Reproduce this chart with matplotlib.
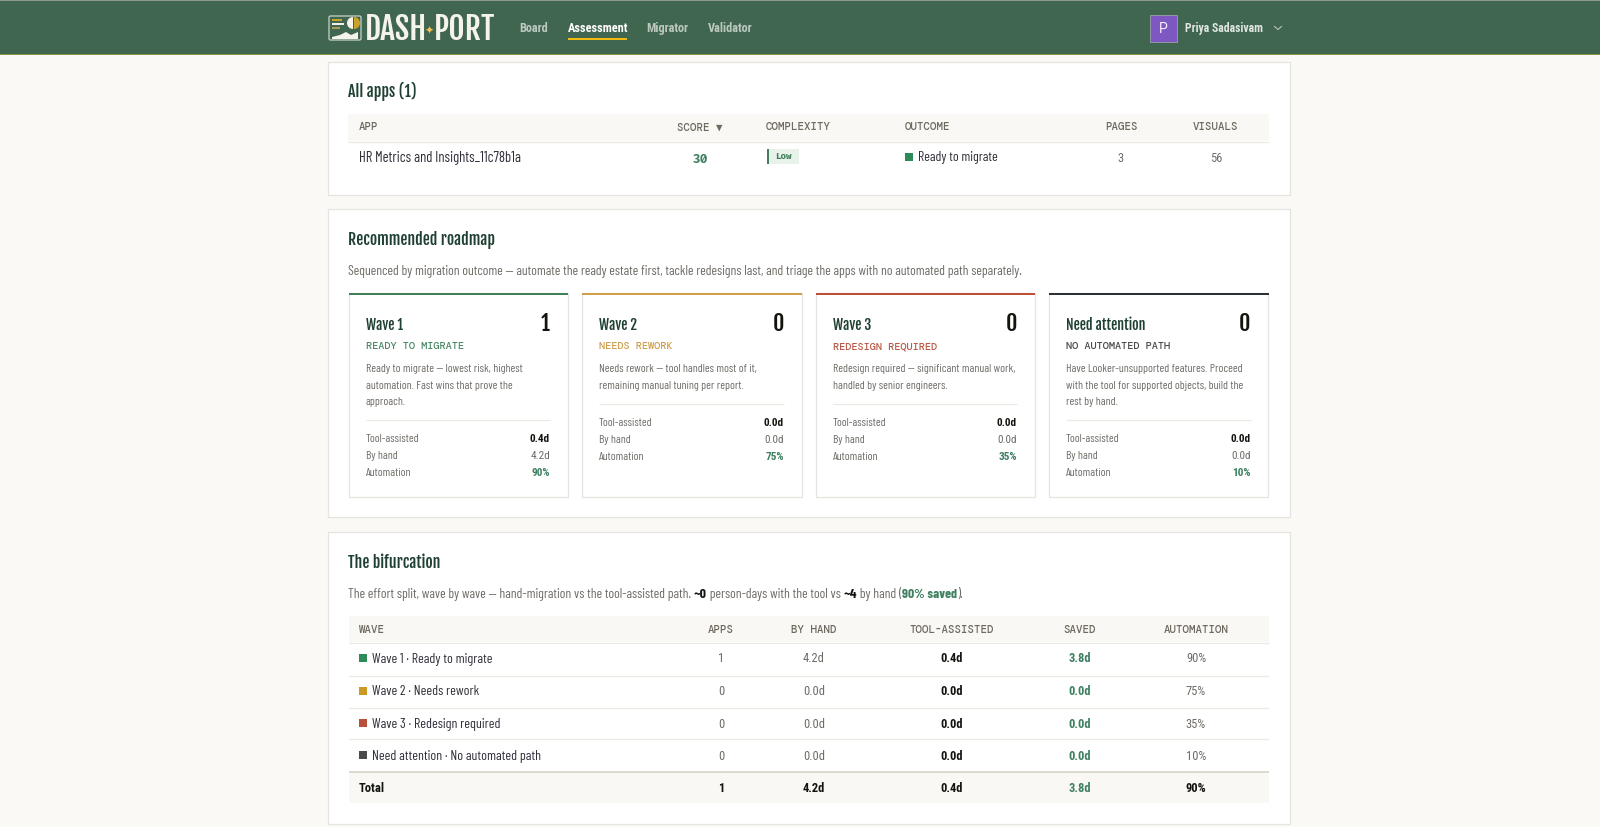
import matplotlib
matplotlib.use("Agg")
import matplotlib.pyplot as plt
from matplotlib.patches import Rectangle, Polygon, Wedge, FancyBboxPatch

# ---- data ----
nav_items = ["Board", "Assessment", "Migrator", "Validator"]
nav_x = [519.5, 568, 646.5, 708]
user_name = "Priya Sadasivam"

app_headers = ["APP", "SCORE ▼", "COMPLEXITY", "OUTCOME", "PAGES", "VISUALS"]
app_name = "HR Metrics and Insights_11c78b1a"
app_score = "30"
app_complexity = "Low"
app_outcome = "Ready to migrate"
app_pages = "3"
app_visuals = "56"

card_titles = ["Wave 1", "Wave 2", "Wave 3", "Need attention"]
card_counts = ["1", "0", "0", "0"]
card_kickers = ["READY TO MIGRATE", "NEEDS REWORK", "REDESIGN REQUIRED", "NO AUTOMATED PATH"]
card_desc = [
    ["Ready to migrate — lowest risk, highest", "automation. Fast wins that prove the", "approach."],
    ["Needs rework — tool handles most of it,", "remaining manual tuning per report."],
    ["Redesign required — significant manual work,", "handled by senior engineers."],
    ["Have Looker-unsupported features. Proceed", "with the tool for supported objects, build the", "rest by hand."],
]
tool_days = ["0.4d", "0.0d", "0.0d", "0.0d"]
hand_days = ["4.2d", "0.0d", "0.0d", "0.0d"]
saved_days = ["3.8d", "0.0d", "0.0d", "0.0d"]
automation = ["90%", "75%", "35%", "10%"]
wave_apps = ["1", "0", "0", "0"]
wave_rows = ["Wave 1 · Ready to migrate", "Wave 2 · Needs rework", "Wave 3 · Redesign required",
             "Need attention · No automated path"]
wave_headers = ["WAVE", "APPS", "BY HAND", "TOOL-ASSISTED", "SAVED", "AUTOMATION"]
total_row = ["Total", "1", "4.2d", "0.4d", "3.8d", "90%"]

# ---- styles ----
PAGE = "#faf9f5"
BAND = "#f9f8f4"
EDGE = "#e6e4de"
LINE = "#ebe9e3"
INK = "#2f2f3a"
GREY = "#6f6b66"
DARK = "#14140f"
GREEN = "#3d8060"
HEAD_GREEN = "#1f4032"
CAP_GREY = "#6f6a60"
TOP_COLORS = ["#3f7f5c", "#cf9f4c", "#bd4f34", "#2c3136"]
KICK_COLORS = ["#4c8a68", "#cfa04e", "#bb5a48", "#4a4a4a"]
SQ_COLORS = ["#2e8b57", "#c99a24", "#b8503a", "#4a4a4a"]

TEXT = ["Barlow Condensed", "Roboto Condensed", "DejaVu Sans"]
NUM = ["Roboto Condensed", "DejaVu Sans"]
HEAD = ["Fjalla One", "Oswald", "Roboto Condensed", "DejaVu Sans"]
CAPS = ["DM Mono", "Roboto Mono", "DejaVu Sans Mono", "DejaVu Sans"]
SCORE = ["Fira Code", "DejaVu Sans Mono"]

fig = plt.figure(figsize=(16, 8.27), dpi=100, facecolor=PAGE)
ax = fig.add_axes([0, 0, 1, 1])
ax.set_xlim(0, 1600)
ax.set_ylim(827, 0)
ax.axis("off")


def box(x0, y0, x1, y1, fc, ec="none", lw=0, z=1):
    ax.add_patch(Rectangle((x0, y0), x1 - x0, y1 - y0, fc=fc, ec=ec, lw=lw, zorder=z))


def hline(x0, x1, y, color=LINE, lw=0.9):
    ax.plot([x0, x1], [y, y], color=color, lw=lw, solid_capstyle="butt", zorder=2)


def txt(x, yc, s, px, color=INK, fam=TEXT, weight="normal", ha="left"):
    # yc is the middle of the capitals, px the css font size
    return ax.text(x, yc + 0.36 * px, s, fontsize=px * 0.72, color=color, family=fam,
                   fontweight=weight, ha=ha, va="baseline", zorder=3)


def run_width(s, px, fam, weight):
    r = fig.canvas.get_renderer()
    a = ax.text(0, 0, "x" + s + "x", fontsize=px * 0.72, family=fam, fontweight=weight)
    b = ax.text(0, 0, "xx", fontsize=px * 0.72, family=fam, fontweight=weight)
    w = a.get_window_extent(r).width - b.get_window_extent(r).width
    a.remove()
    b.remove()
    return w


def runs(x, yc, parts, px):
    for s, color, weight in parts:
        txt(x, yc, s, px, color=color, weight=weight)
        x += run_width(s, px, TEXT, weight)


# ---- top bar ----
box(0, 0, 1600, 55, "#41664f")
box(0, 0, 1600, 1.2, "#8d9a90", z=2)
box(0, 53.8, 1600, 55.2, "#8c9440", z=2)

ax.add_patch(FancyBboxPatch((329, 16), 32, 24, boxstyle="round,pad=0,rounding_size=1.5",
                            fc="none", ec="#c9d2cb", lw=0.9, zorder=2))
box(332, 19, 342, 21, "#c9a227", z=3)
box(332, 23, 344, 25, "#f1efe6", z=3)
box(332, 27, 340, 29, "#a79a5a", z=3)
ax.add_patch(Wedge((353, 23), 6, 90, 270, fc="#f5f3ea", ec="none", zorder=3))
ax.add_patch(Wedge((354, 23), 6, 270, 90, fc="#c9a227", ec="none", zorder=3))
ax.add_patch(Polygon([(332, 39), (332, 37), (340, 35), (346, 32), (351, 35), (358, 32), (358, 39)],
                     fc="#f5f3ea", ec="none", zorder=3))

txt(365, 28.5, "DASH", 31.5, color="#f4f3ec", fam=HEAD)
txt(429, 29.5, "✦", 11, color="#f2c14e", fam=["DejaVu Sans"], ha="center")
txt(434, 28.5, "PORT", 31.5, color="#f4f3ec", fam=HEAD)

for i, name in enumerate(nav_items):
    active = name == "Assessment"
    txt(nav_x[i], 27.5, name, 12.3, color="#ffffff" if active else "#bcc9bf", fam=NUM, weight="bold")
box(568, 38, 627, 40, "#f2b90f", z=2)

box(1150, 15, 1177, 42, "#7e57c2", ec="#8f9aa5", lw=0.7, z=2)
txt(1163.5, 28, "P", 14, color="#f3eefc", fam=["Roboto", "DejaVu Sans"], ha="center")
txt(1185, 27.5, user_name, 11.8, color="#dfe6e0", fam=NUM, weight="bold")
ax.plot([1274.5, 1278, 1281.5], [26.5, 29.5, 26.5], color="#b5c2b9", lw=0.8, zorder=3)

# ---- white panels ----
for y0, y1 in [(62, 195), (209, 517), (532, 824)]:
    box(327.5, y0, 1289.5, y1, "#ffffff", ec=EDGE, lw=0.9)

# ---- all apps table ----
txt(348, 91.5, "All apps (1)", 15.7, color=HEAD_GREEN, fam=HEAD)
box(348, 114, 1269, 141, BAND)
hline(348, 1269, 141.5)
for s, x, ha in zip(app_headers, [359, 700, 766, 905, 1121, 1216],
                    ["left", "center", "left", "left", "center", "center"]):
    txt(x, 126.5, s, 10.8, color=CAP_GREY, fam=CAPS, weight=500, ha=ha)

txt(359, 157, app_name, 14.6, color=INK)
txt(701, 158.5, app_score, 12.5, color=GREEN, fam=SCORE, weight="bold", ha="center")
box(767, 149, 799, 164, "#e9f1eb")
box(767, 149, 769, 164, "#3f7f5c", z=2)
txt(775, 156, app_complexity, 9, color="#3f7f5c", fam=SCORE, weight="bold")
box(905, 153, 913, 161, SQ_COLORS[0])
txt(918, 156.5, app_outcome, 13.8, color=INK)
txt(1121, 157.5, app_pages, 12.5, color=GREY, fam=NUM, ha="center")
txt(1216, 157.5, app_visuals, 12.5, color=GREY, fam=NUM, ha="center")

# ---- roadmap cards ----
txt(348, 239.5, "Recommended roadmap", 15.7, color=HEAD_GREEN, fam=HEAD)
txt(348, 270, "Sequenced by migration outcome — automate the ready estate first, tackle redesigns last, "
              "and triage the apps with no automated path separately.", 13.7, color=GREY)

card_left = [349, 582, 816, 1049]
card_right = [567.5, 801.5, 1034.5, 1268]
for i in range(4):
    x0, x1 = card_left[i], card_right[i]
    box(x0, 293, x1, 497, "#ffffff", ec=EDGE, lw=0.9, z=1.5)
    box(x0 - 0.5, 292.5, x1 + 0.5, 295.3, TOP_COLORS[i], z=2)
    px, pr = x0 + 17, x1 - 17.5
    txt(px, 324.5, card_titles[i], 14, color=HEAD_GREEN, fam=HEAD)
    txt(pr, 323.5, card_counts[i], 22, color=DARK, fam=HEAD, ha="right")
    txt(px, 345.5, card_kickers[i], 10.3, color=KICK_COLORS[i], fam=CAPS, weight=500)
    for j, line in enumerate(card_desc[i]):
        txt(px, 368 + j * 16.6, line, 11.7, color=GREY)
    three = len(card_desc[i]) == 3
    hline(px, pr, 420 if three else 404)
    y = 438 if three else 422
    txt(px, y, "Tool-assisted", 11.7, color=GREY)
    txt(pr, y, tool_days[i], 11.2, color=DARK, fam=NUM, weight="bold", ha="right")
    txt(px, y + 17, "By hand", 11.7, color=GREY)
    txt(pr, y + 17, hand_days[i], 11.2, color=GREY, fam=NUM, ha="right")
    txt(px, y + 34, "Automation", 11.7, color=GREY)
    txt(pr, y + 34, automation[i], 11.2, color=GREEN, fam=NUM, weight="bold", ha="right")

# ---- bifurcation table ----
txt(348, 562, "The bifurcation", 15.7, color=HEAD_GREEN, fam=HEAD)
runs(348, 593, [
    ("The effort split, wave by wave — hand-migration vs the tool-assisted path. ", GREY, "normal"),
    ("~0", DARK, "bold"),
    (" person-days with the tool vs ", GREY, "normal"),
    ("~4", DARK, "bold"),
    (" by hand (", GREY, "normal"),
    ("90% saved", GREEN, "bold"),
    (").", GREY, "normal"),
], 13.7)

col_x = [721, 814, 952, 1080, 1196]
box(349, 616, 1269, 642, BAND)
hline(349, 1269, 642.5)
txt(359, 629, wave_headers[0], 10.8, color=CAP_GREY, fam=CAPS, weight=500)
for s, x in zip(wave_headers[1:], col_x):
    txt(x, 629, s, 10.8, color=CAP_GREY, fam=CAPS, weight=500, ha="center")

row_y = [658, 690.5, 723, 755]
for y in [676, 707.5, 739]:
    hline(349, 1269, y)
for i, y in enumerate(row_y):
    box(359, y - 4, 367, y + 4, SQ_COLORS[i])
    txt(372, y - 0.5, wave_rows[i], 13.9, color=INK)
    txt(col_x[0], y, wave_apps[i], 12.5, color=GREY, fam=NUM, ha="center")
    txt(col_x[1], y, hand_days[i], 12.5, color=GREY, fam=NUM, ha="center")
    txt(col_x[2], y, tool_days[i], 12.5, color=DARK, fam=NUM, weight="bold", ha="center")
    txt(col_x[3], y, saved_days[i], 12.5, color=GREEN, fam=NUM, weight="bold", ha="center")
    txt(col_x[4], y, automation[i], 12.5, color=GREY, fam=NUM, ha="center")

box(349, 772, 1269, 803, BAND)
hline(349, 1269, 772, color="#dcd9d0", lw=1.4)
txt(359, 788, total_row[0], 12.5, color=DARK, fam=NUM, weight="bold")
total_colors = [DARK, DARK, DARK, GREEN, DARK]
for s, x, c in zip(total_row[1:], col_x, total_colors):
    txt(x, 788, s, 12.5, color=c, fam=NUM, weight="bold", ha="center")

fig.savefig("out.png", dpi=100, facecolor=PAGE)
